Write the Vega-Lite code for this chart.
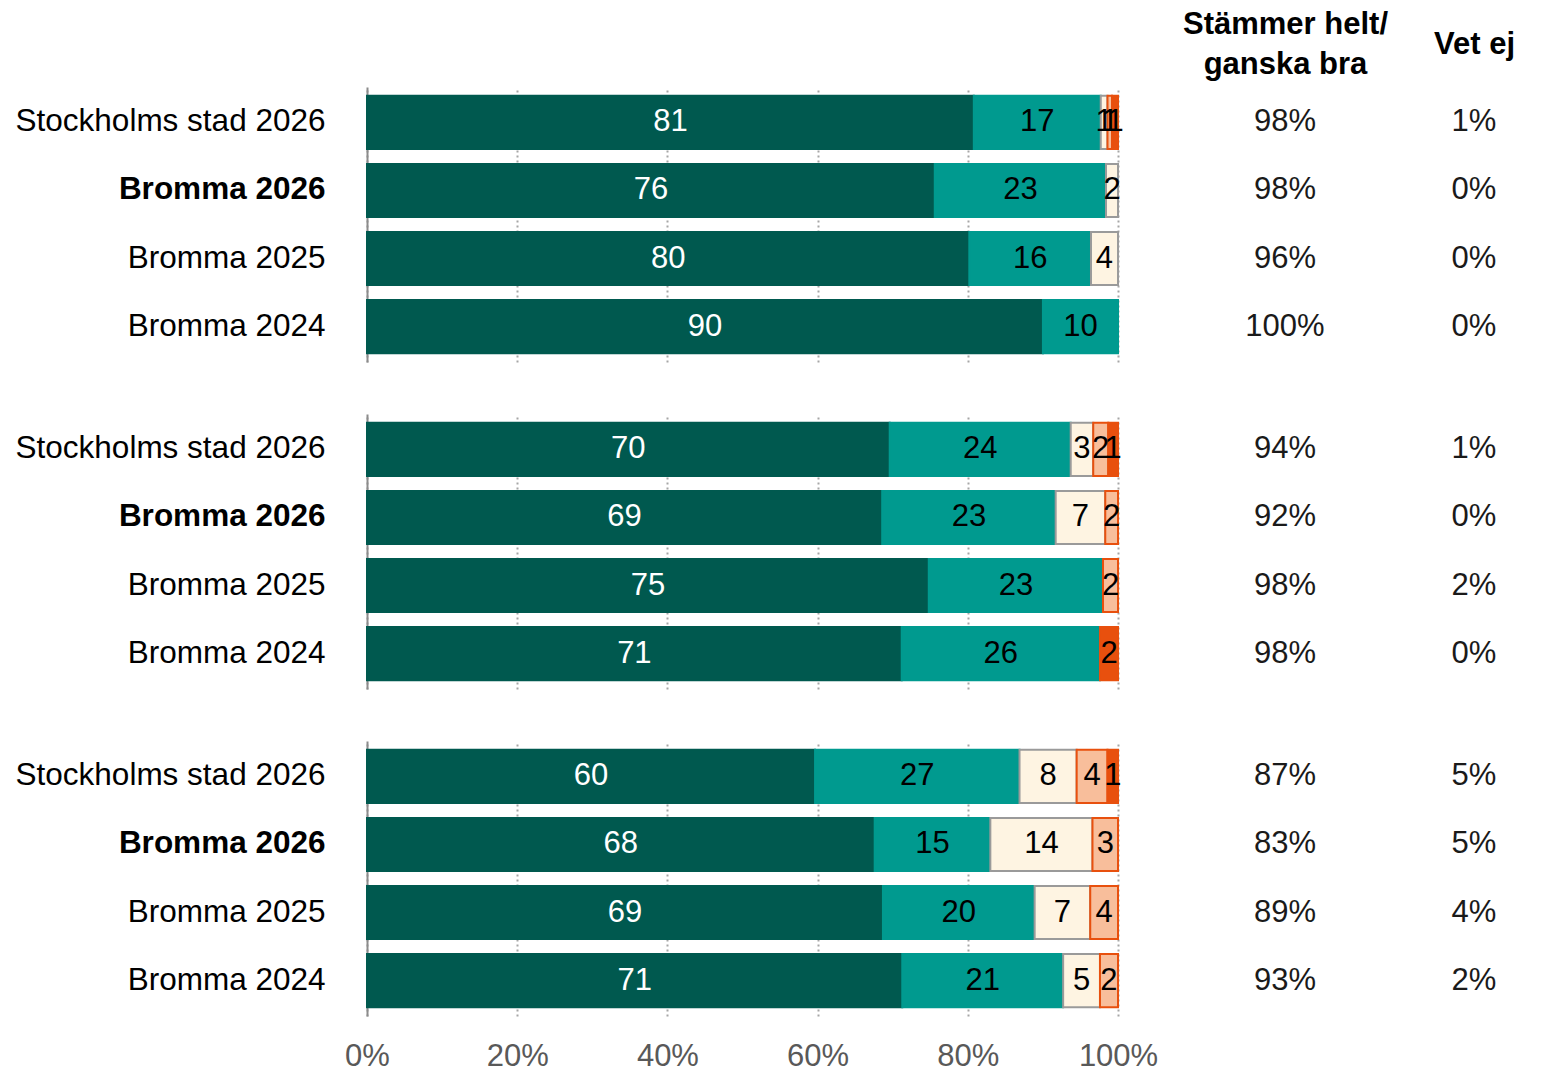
{
  "$schema": "https://vega.github.io/schema/vega-lite/v6.json",
  "padding": {"left": 15, "top": 8, "right": 5, "bottom": 0},
  "background": "white",
  "config": {"view": {"stroke": null}, "font": "Liberation Sans"},
  "data": {"values": [
    {"g": "1", "label": "Stockholms stad 2026", "cat": "Stämmer helt", "value": 80.8},
    {"g": "1", "label": "Stockholms stad 2026", "cat": "Stämmer ganska bra", "value": 16.9},
    {"g": "1", "label": "Stockholms stad 2026", "cat": "Varken eller", "value": 0.9},
    {"g": "1", "label": "Stockholms stad 2026", "cat": "Stämmer ganska dåligt", "value": 0.6},
    {"g": "1", "label": "Stockholms stad 2026", "cat": "Stämmer inte alls", "value": 0.8},
    {"g": "1", "label": "Bromma 2026", "cat": "Stämmer helt", "value": 75.6},
    {"g": "1", "label": "Bromma 2026", "cat": "Stämmer ganska bra", "value": 22.8},
    {"g": "1", "label": "Bromma 2026", "cat": "Varken eller", "value": 1.6},
    {"g": "1", "label": "Bromma 2025", "cat": "Stämmer helt", "value": 80.2},
    {"g": "1", "label": "Bromma 2025", "cat": "Stämmer ganska bra", "value": 16.2},
    {"g": "1", "label": "Bromma 2025", "cat": "Varken eller", "value": 3.6},
    {"g": "1", "label": "Bromma 2024", "cat": "Stämmer helt", "value": 90.0},
    {"g": "1", "label": "Bromma 2024", "cat": "Stämmer ganska bra", "value": 10.0},
    {"g": "2", "label": "Stockholms stad 2026", "cat": "Stämmer helt", "value": 69.6},
    {"g": "2", "label": "Stockholms stad 2026", "cat": "Stämmer ganska bra", "value": 24.1},
    {"g": "2", "label": "Stockholms stad 2026", "cat": "Varken eller", "value": 3.0},
    {"g": "2", "label": "Stockholms stad 2026", "cat": "Stämmer ganska dåligt", "value": 2.0},
    {"g": "2", "label": "Stockholms stad 2026", "cat": "Stämmer inte alls", "value": 1.3},
    {"g": "2", "label": "Bromma 2026", "cat": "Stämmer helt", "value": 68.6},
    {"g": "2", "label": "Bromma 2026", "cat": "Stämmer ganska bra", "value": 23.1},
    {"g": "2", "label": "Bromma 2026", "cat": "Varken eller", "value": 6.6},
    {"g": "2", "label": "Bromma 2026", "cat": "Stämmer ganska dåligt", "value": 1.7},
    {"g": "2", "label": "Bromma 2025", "cat": "Stämmer helt", "value": 74.8},
    {"g": "2", "label": "Bromma 2025", "cat": "Stämmer ganska bra", "value": 23.2},
    {"g": "2", "label": "Bromma 2025", "cat": "Stämmer ganska dåligt", "value": 2.0},
    {"g": "2", "label": "Bromma 2024", "cat": "Stämmer helt", "value": 71.2},
    {"g": "2", "label": "Bromma 2024", "cat": "Stämmer ganska bra", "value": 26.4},
    {"g": "2", "label": "Bromma 2024", "cat": "Stämmer inte alls", "value": 2.4},
    {"g": "3", "label": "Stockholms stad 2026", "cat": "Stämmer helt", "value": 59.6},
    {"g": "3", "label": "Stockholms stad 2026", "cat": "Stämmer ganska bra", "value": 27.2},
    {"g": "3", "label": "Stockholms stad 2026", "cat": "Varken eller", "value": 7.6},
    {"g": "3", "label": "Stockholms stad 2026", "cat": "Stämmer ganska dåligt", "value": 4.1},
    {"g": "3", "label": "Stockholms stad 2026", "cat": "Stämmer inte alls", "value": 1.4},
    {"g": "3", "label": "Bromma 2026", "cat": "Stämmer helt", "value": 67.6},
    {"g": "3", "label": "Bromma 2026", "cat": "Stämmer ganska bra", "value": 15.4},
    {"g": "3", "label": "Bromma 2026", "cat": "Varken eller", "value": 13.6},
    {"g": "3", "label": "Bromma 2026", "cat": "Stämmer ganska dåligt", "value": 3.4},
    {"g": "3", "label": "Bromma 2025", "cat": "Stämmer helt", "value": 68.7},
    {"g": "3", "label": "Bromma 2025", "cat": "Stämmer ganska bra", "value": 20.2},
    {"g": "3", "label": "Bromma 2025", "cat": "Varken eller", "value": 7.4},
    {"g": "3", "label": "Bromma 2025", "cat": "Stämmer ganska dåligt", "value": 3.7},
    {"g": "3", "label": "Bromma 2024", "cat": "Stämmer helt", "value": 71.2},
    {"g": "3", "label": "Bromma 2024", "cat": "Stämmer ganska bra", "value": 21.4},
    {"g": "3", "label": "Bromma 2024", "cat": "Varken eller", "value": 4.9},
    {"g": "3", "label": "Bromma 2024", "cat": "Stämmer ganska dåligt", "value": 2.4},
    {"g": "1", "label": "Stockholms stad 2026", "column": "Stämmer helt/ganska bra", "share": 0.98},
    {"g": "1", "label": "Stockholms stad 2026", "column": "Vet ej", "share": 0.01},
    {"g": "1", "label": "Bromma 2026", "column": "Stämmer helt/ganska bra", "share": 0.98},
    {"g": "1", "label": "Bromma 2026", "column": "Vet ej", "share": 0.0},
    {"g": "1", "label": "Bromma 2025", "column": "Stämmer helt/ganska bra", "share": 0.96},
    {"g": "1", "label": "Bromma 2025", "column": "Vet ej", "share": 0.0},
    {"g": "1", "label": "Bromma 2024", "column": "Stämmer helt/ganska bra", "share": 1.0},
    {"g": "1", "label": "Bromma 2024", "column": "Vet ej", "share": 0.0},
    {"g": "2", "label": "Stockholms stad 2026", "column": "Stämmer helt/ganska bra", "share": 0.94},
    {"g": "2", "label": "Stockholms stad 2026", "column": "Vet ej", "share": 0.01},
    {"g": "2", "label": "Bromma 2026", "column": "Stämmer helt/ganska bra", "share": 0.92},
    {"g": "2", "label": "Bromma 2026", "column": "Vet ej", "share": 0.0},
    {"g": "2", "label": "Bromma 2025", "column": "Stämmer helt/ganska bra", "share": 0.98},
    {"g": "2", "label": "Bromma 2025", "column": "Vet ej", "share": 0.02},
    {"g": "2", "label": "Bromma 2024", "column": "Stämmer helt/ganska bra", "share": 0.98},
    {"g": "2", "label": "Bromma 2024", "column": "Vet ej", "share": 0.0},
    {"g": "3", "label": "Stockholms stad 2026", "column": "Stämmer helt/ganska bra", "share": 0.87},
    {"g": "3", "label": "Stockholms stad 2026", "column": "Vet ej", "share": 0.05},
    {"g": "3", "label": "Bromma 2026", "column": "Stämmer helt/ganska bra", "share": 0.83},
    {"g": "3", "label": "Bromma 2026", "column": "Vet ej", "share": 0.05},
    {"g": "3", "label": "Bromma 2025", "column": "Stämmer helt/ganska bra", "share": 0.89},
    {"g": "3", "label": "Bromma 2025", "column": "Vet ej", "share": 0.04},
    {"g": "3", "label": "Bromma 2024", "column": "Stämmer helt/ganska bra", "share": 0.93},
    {"g": "3", "label": "Bromma 2024", "column": "Vet ej", "share": 0.02}
  ]},
  "spacing": 52,
  "vconcat": [
    {
      "width": 1107, "height": 275,
      "transform": [{"filter": "datum.g == '1'"}],
      "layer": [
        {
          "transform": [
            {"filter": "isValid(datum.value)"},
            {"calculate": "indexof(['Stämmer helt','Stämmer ganska bra','Varken eller','Stämmer ganska dåligt','Stämmer inte alls'], datum.cat)", "as": "rank"},
            {"stack": "value", "groupby": ["label"], "sort": [{"field": "rank", "order": "ascending"}], "offset": "normalize", "as": ["x0", "x1"]},
            {"calculate": "(datum.x0 + datum.x1) / 2", "as": "mid"}
          ],
          "layer": [
            {
              "mark": {"type": "bar", "strokeWidth": 2},
              "encoding": {
                "x": {"field": "x0", "type": "quantitative", "scale": {"domain": [0, 1.474], "nice": false},
                  "axis": {"title": null, "values": [0, 0.2, 0.4, 0.6, 0.8, 1], "labels": false, "domain": false, "ticks": false,
                    "grid": true, "gridDash": [2, 3], "gridColor": "#a6a6a6", "gridWidth": 2}},
                "x2": {"field": "x1"},
                "y": {"field": "label", "type": "nominal", "sort": ["Stockholms stad 2026", "Bromma 2026", "Bromma 2025", "Bromma 2024"],
                  "scale": {"paddingInner": 0.22, "paddingOuter": 0.13},
                  "axis": {"title": null, "domain": true, "domainColor": "#8c8c8c", "domainWidth": 2, "ticks": false, "labelFontSize": 31.5, "labelColor": "#000000", "labelPadding": 42, "labelLimit": 500,
                    "labelFontWeight": {"condition": {"test": "datum.value == 'Bromma 2026'", "value": "bold"}, "value": "normal"}}},
                "fill": {"field": "cat", "type": "nominal", "legend": null,
                  "scale": {"domain": ["Stämmer helt", "Stämmer ganska bra", "Varken eller", "Stämmer ganska dåligt", "Stämmer inte alls"],
                    "range": ["#00594F", "#009A8F", "#FEF4E2", "#F8BE9B", "#E8500E"]}},
                "stroke": {"field": "cat", "type": "nominal", "legend": null,
                  "scale": {"domain": ["Stämmer helt", "Stämmer ganska bra", "Varken eller", "Stämmer ganska dåligt", "Stämmer inte alls"],
                    "range": ["#00594F", "#009A8F", "#9a9a9a", "#E8500E", "#E8500E"]}}
              }
            },
            {
              "mark": {"type": "text", "fontSize": 31},
              "encoding": {
                "x": {"field": "mid", "type": "quantitative", "title": null},
                "y": {"field": "label", "type": "nominal", "sort": ["Stockholms stad 2026", "Bromma 2026", "Bromma 2025", "Bromma 2024"]},
                "text": {"field": "value", "type": "quantitative", "format": ".0f"},
                "color": {"condition": {"test": "datum.cat == 'Stämmer helt'", "value": "white"}, "value": "black"}
              }
            }
          ]
        },
        {
          "transform": [{"filter": "isValid(datum.share)"}],
          "mark": {"type": "text", "fontSize": 31, "color": "#1a1a1a"},
          "encoding": {
            "x": {"field": "column", "type": "nominal", "sort": ["Stämmer helt/ganska bra", "Vet ej"],
              "scale": {"type": "point", "padding": 0, "range": [918, 1107]},
              "axis": {"orient": "top", "title": null, "domain": false, "ticks": false, "grid": false, "labelAngle": 0,
                "labelFontSize": 31, "labelFontWeight": "bold", "labelColor": "#000000", "labelBaseline": "middle", "labelLineHeight": 40,
                "labelPadding": {"condition": {"test": "datum.value == 'Vet ej'", "value": 43}, "value": 63},
                "labelOverlap": false, "labelBound": false, "labelLimit": 500,
                "labelExpr": "indexof(datum.label, '/') > 0 ? [slice(datum.label, 0, indexof(datum.label, '/') + 1), slice(datum.label, indexof(datum.label, '/') + 1)] : datum.label"}},
            "y": {"field": "label", "type": "nominal", "sort": ["Stockholms stad 2026", "Bromma 2026", "Bromma 2025", "Bromma 2024"]},
            "text": {"field": "share", "type": "quantitative", "format": ".0%"}
          }
        }
      ],
      "resolve": {"scale": {"x": "independent"}}
    },
    {
      "width": 1107, "height": 275,
      "transform": [{"filter": "datum.g == '2'"}],
      "layer": [
        {
          "transform": [
            {"filter": "isValid(datum.value)"},
            {"calculate": "indexof(['Stämmer helt','Stämmer ganska bra','Varken eller','Stämmer ganska dåligt','Stämmer inte alls'], datum.cat)", "as": "rank"},
            {"stack": "value", "groupby": ["label"], "sort": [{"field": "rank", "order": "ascending"}], "offset": "normalize", "as": ["x0", "x1"]},
            {"calculate": "(datum.x0 + datum.x1) / 2", "as": "mid"}
          ],
          "layer": [
            {
              "mark": {"type": "bar", "strokeWidth": 2},
              "encoding": {
                "x": {"field": "x0", "type": "quantitative", "scale": {"domain": [0, 1.474], "nice": false},
                  "axis": {"title": null, "values": [0, 0.2, 0.4, 0.6, 0.8, 1], "labels": false, "domain": false, "ticks": false,
                    "grid": true, "gridDash": [2, 3], "gridColor": "#a6a6a6", "gridWidth": 2}},
                "x2": {"field": "x1"},
                "y": {"field": "label", "type": "nominal", "sort": ["Stockholms stad 2026", "Bromma 2026", "Bromma 2025", "Bromma 2024"],
                  "scale": {"paddingInner": 0.22, "paddingOuter": 0.13},
                  "axis": {"title": null, "domain": true, "domainColor": "#8c8c8c", "domainWidth": 2, "ticks": false, "labelFontSize": 31.5, "labelColor": "#000000", "labelPadding": 42, "labelLimit": 500,
                    "labelFontWeight": {"condition": {"test": "datum.value == 'Bromma 2026'", "value": "bold"}, "value": "normal"}}},
                "fill": {"field": "cat", "type": "nominal", "legend": null,
                  "scale": {"domain": ["Stämmer helt", "Stämmer ganska bra", "Varken eller", "Stämmer ganska dåligt", "Stämmer inte alls"],
                    "range": ["#00594F", "#009A8F", "#FEF4E2", "#F8BE9B", "#E8500E"]}},
                "stroke": {"field": "cat", "type": "nominal", "legend": null,
                  "scale": {"domain": ["Stämmer helt", "Stämmer ganska bra", "Varken eller", "Stämmer ganska dåligt", "Stämmer inte alls"],
                    "range": ["#00594F", "#009A8F", "#9a9a9a", "#E8500E", "#E8500E"]}}
              }
            },
            {
              "mark": {"type": "text", "fontSize": 31},
              "encoding": {
                "x": {"field": "mid", "type": "quantitative", "title": null},
                "y": {"field": "label", "type": "nominal", "sort": ["Stockholms stad 2026", "Bromma 2026", "Bromma 2025", "Bromma 2024"]},
                "text": {"field": "value", "type": "quantitative", "format": ".0f"},
                "color": {"condition": {"test": "datum.cat == 'Stämmer helt'", "value": "white"}, "value": "black"}
              }
            }
          ]
        },
        {
          "transform": [{"filter": "isValid(datum.share)"}],
          "mark": {"type": "text", "fontSize": 31, "color": "#1a1a1a"},
          "encoding": {
            "x": {"field": "column", "type": "nominal", "sort": ["Stämmer helt/ganska bra", "Vet ej"],
              "scale": {"type": "point", "padding": 0, "range": [918, 1107]}, "axis": null},
            "y": {"field": "label", "type": "nominal", "sort": ["Stockholms stad 2026", "Bromma 2026", "Bromma 2025", "Bromma 2024"]},
            "text": {"field": "share", "type": "quantitative", "format": ".0%"}
          }
        }
      ],
      "resolve": {"scale": {"x": "independent"}}
    },
    {
      "width": 1107, "height": 275,
      "transform": [{"filter": "datum.g == '3'"}],
      "layer": [
        {
          "transform": [
            {"filter": "isValid(datum.value)"},
            {"calculate": "indexof(['Stämmer helt','Stämmer ganska bra','Varken eller','Stämmer ganska dåligt','Stämmer inte alls'], datum.cat)", "as": "rank"},
            {"stack": "value", "groupby": ["label"], "sort": [{"field": "rank", "order": "ascending"}], "offset": "normalize", "as": ["x0", "x1"]},
            {"calculate": "(datum.x0 + datum.x1) / 2", "as": "mid"}
          ],
          "layer": [
            {
              "mark": {"type": "bar", "strokeWidth": 2},
              "encoding": {
                "x": {"field": "x0", "type": "quantitative", "scale": {"domain": [0, 1.474], "nice": false},
                  "axis": {"title": null, "values": [0, 0.2, 0.4, 0.6, 0.8, 1], "format": ".0%", "domain": false, "ticks": false, "labelFlush": false,
                    "labelFontSize": 31, "labelColor": "#595959", "labelPadding": 25, "grid": true, "gridDash": [2, 3], "gridColor": "#a6a6a6", "gridWidth": 2}},
                "x2": {"field": "x1"},
                "y": {"field": "label", "type": "nominal", "sort": ["Stockholms stad 2026", "Bromma 2026", "Bromma 2025", "Bromma 2024"],
                  "scale": {"paddingInner": 0.22, "paddingOuter": 0.13},
                  "axis": {"title": null, "domain": true, "domainColor": "#8c8c8c", "domainWidth": 2, "ticks": false, "labelFontSize": 31.5, "labelColor": "#000000", "labelPadding": 42, "labelLimit": 500,
                    "labelFontWeight": {"condition": {"test": "datum.value == 'Bromma 2026'", "value": "bold"}, "value": "normal"}}},
                "fill": {"field": "cat", "type": "nominal", "legend": null,
                  "scale": {"domain": ["Stämmer helt", "Stämmer ganska bra", "Varken eller", "Stämmer ganska dåligt", "Stämmer inte alls"],
                    "range": ["#00594F", "#009A8F", "#FEF4E2", "#F8BE9B", "#E8500E"]}},
                "stroke": {"field": "cat", "type": "nominal", "legend": null,
                  "scale": {"domain": ["Stämmer helt", "Stämmer ganska bra", "Varken eller", "Stämmer ganska dåligt", "Stämmer inte alls"],
                    "range": ["#00594F", "#009A8F", "#9a9a9a", "#E8500E", "#E8500E"]}}
              }
            },
            {
              "mark": {"type": "text", "fontSize": 31},
              "encoding": {
                "x": {"field": "mid", "type": "quantitative", "title": null},
                "y": {"field": "label", "type": "nominal", "sort": ["Stockholms stad 2026", "Bromma 2026", "Bromma 2025", "Bromma 2024"]},
                "text": {"field": "value", "type": "quantitative", "format": ".0f"},
                "color": {"condition": {"test": "datum.cat == 'Stämmer helt'", "value": "white"}, "value": "black"}
              }
            }
          ]
        },
        {
          "transform": [{"filter": "isValid(datum.share)"}],
          "mark": {"type": "text", "fontSize": 31, "color": "#1a1a1a"},
          "encoding": {
            "x": {"field": "column", "type": "nominal", "sort": ["Stämmer helt/ganska bra", "Vet ej"],
              "scale": {"type": "point", "padding": 0, "range": [918, 1107]}, "axis": null},
            "y": {"field": "label", "type": "nominal", "sort": ["Stockholms stad 2026", "Bromma 2026", "Bromma 2025", "Bromma 2024"]},
            "text": {"field": "share", "type": "quantitative", "format": ".0%"}
          }
        }
      ],
      "resolve": {"scale": {"x": "independent"}}
    }
  ]
}
